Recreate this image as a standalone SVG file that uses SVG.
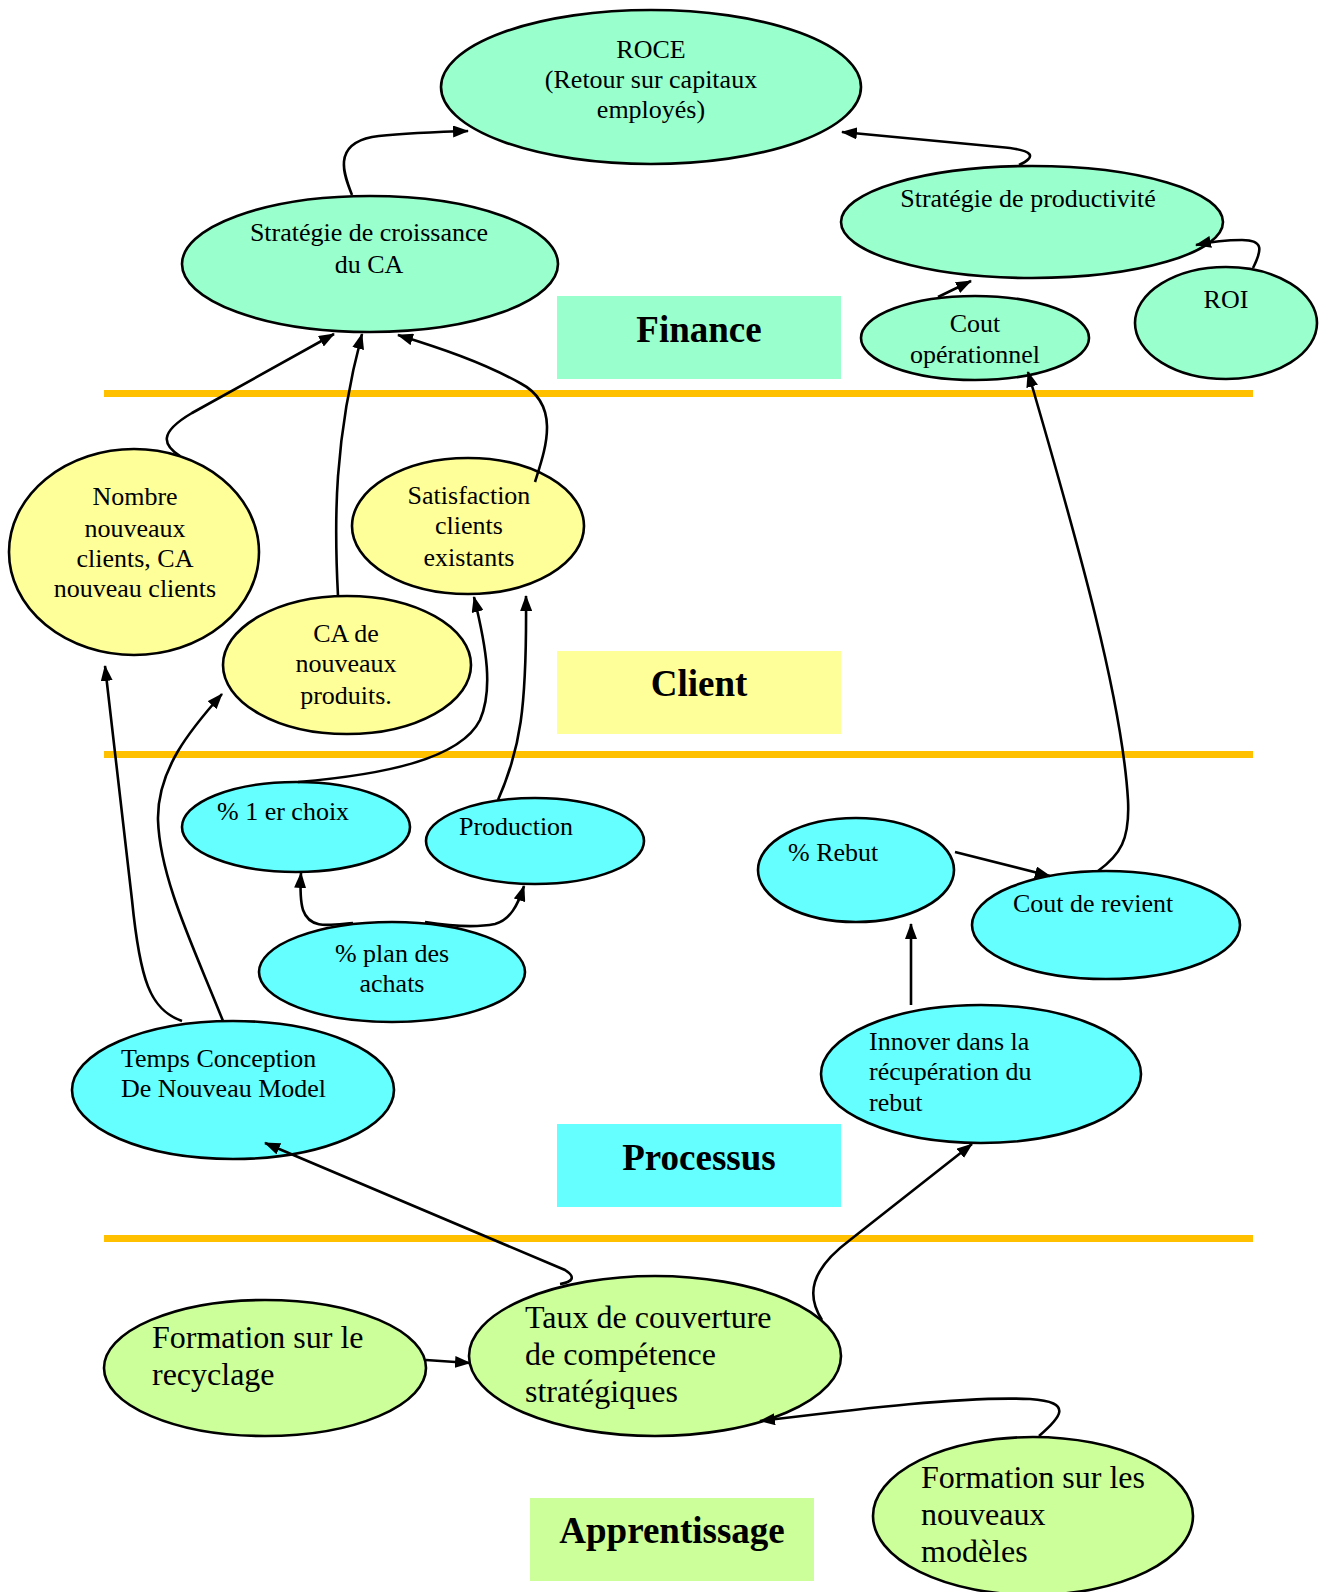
<svg xmlns="http://www.w3.org/2000/svg" width="1334" height="1592" viewBox="0 0 1334 1592">
<defs>
<marker id="arr" markerUnits="userSpaceOnUse" markerWidth="16" markerHeight="12" refX="15" refY="6" orient="auto">
<path d="M0,0 L16,6 L0,12 z" fill="#000"/>
</marker>
<style>
.n{stroke:#000;stroke-width:2.6}
.fin{fill:#99FFCC}
.cli{fill:#FFFF99}
.pro{fill:#66FFFF}
.app{fill:#CCFF99}
.t{font-family:"Liberation Serif","Times New Roman",serif;font-size:26px;fill:#000}
.tc{text-anchor:middle}
.tl{font-family:"Liberation Serif","Times New Roman",serif;font-size:32px;fill:#000}
.h{font-family:"Liberation Serif","Times New Roman",serif;font-size:37px;font-weight:bold;fill:#000;text-anchor:middle}
.sep{fill:#FFC000}
.e{fill:none;stroke:#000;stroke-width:2.6;marker-end:url(#arr)}
</style>
</defs>
<rect width="1334" height="1592" fill="#fff"/>

<g id="bands">
<rect class="sep" x="104" y="390" width="1149" height="7"/>
<rect class="sep" x="104" y="751" width="1149" height="7"/>
<rect class="sep" x="104" y="1235" width="1149" height="7"/>
</g>

<g id="label-finance">
<rect class="fin" x="557" y="296" width="284" height="83"/>
<text class="h" x="699" y="342">Finance</text>
</g>
<g id="label-client">
<rect class="cli" x="557" y="651" width="284" height="83"/>
<text class="h" x="699" y="696">Client</text>
</g>
<g id="label-processus">
<rect class="pro" x="557" y="1124" width="284" height="83"/>
<text class="h" x="699" y="1170">Processus</text>
</g>
<g id="label-apprentissage">
<rect class="app" x="530" y="1498" width="284" height="83"/>
<text class="h" x="672" y="1543">Apprentissage</text>
</g>

<g id="roce">
<ellipse class="n fin" cx="651" cy="87" rx="210" ry="77"/>
<text class="t tc" x="651" y="58">ROCE</text>
<text class="t tc" x="651" y="88">(Retour sur capitaux</text>
<text class="t tc" x="651" y="118">employés)</text>
</g>
<g id="strat-croissance">
<ellipse class="n fin" cx="370" cy="264" rx="188" ry="68"/>
<text class="t tc" x="369" y="241">Stratégie de croissance</text>
<text class="t tc" x="369" y="273">du CA</text>
</g>
<g id="strat-productivite">
<ellipse class="n fin" cx="1032" cy="222" rx="191" ry="56"/>
<text class="t tc" x="1028" y="207">Stratégie de productivité</text>
</g>
<g id="cout-operationnel">
<ellipse class="n fin" cx="975" cy="338" rx="114" ry="42"/>
<text class="t tc" x="975" y="332">Cout</text>
<text class="t tc" x="975" y="363">opérationnel</text>
</g>
<g id="roi">
<ellipse class="n fin" cx="1226" cy="323" rx="91" ry="56"/>
<text class="t tc" x="1226" y="308">ROI</text>
</g>

<g id="nombre-clients">
<ellipse class="n cli" cx="134" cy="552" rx="125" ry="103"/>
<text class="t tc" x="135" y="505">Nombre</text>
<text class="t tc" x="135" y="537">nouveaux</text>
<text class="t tc" x="135" y="567">clients, CA</text>
<text class="t tc" x="135" y="597">nouveau clients</text>
</g>
<g id="satisfaction">
<ellipse class="n cli" cx="468" cy="526" rx="116" ry="68"/>
<text class="t tc" x="469" y="504">Satisfaction</text>
<text class="t tc" x="469" y="534">clients</text>
<text class="t tc" x="469" y="566">existants</text>
</g>
<g id="ca-nouveaux-produits">
<ellipse class="n cli" cx="347" cy="665" rx="124" ry="69"/>
<text class="t tc" x="346" y="642">CA de</text>
<text class="t tc" x="346" y="672">nouveaux</text>
<text class="t tc" x="346" y="704">produits.</text>
</g>

<g id="premier-choix">
<ellipse class="n pro" cx="296" cy="827" rx="114" ry="45"/>
<text class="t" x="217" y="820">% 1 er choix</text>
</g>
<g id="production">
<ellipse class="n pro" cx="535" cy="841" rx="109" ry="43"/>
<text class="t" x="459" y="835">Production</text>
</g>
<g id="plan-achats">
<ellipse class="n pro" cx="392" cy="972" rx="133" ry="50"/>
<text class="t tc" x="392" y="962">% plan des</text>
<text class="t tc" x="392" y="992">achats</text>
</g>
<g id="temps-conception">
<ellipse class="n pro" cx="233" cy="1090" rx="161" ry="69"/>
<text class="t" x="121" y="1067">Temps Conception</text>
<text class="t" x="121" y="1097">De Nouveau Model</text>
</g>
<g id="rebut">
<ellipse class="n pro" cx="856" cy="870" rx="98" ry="52"/>
<text class="t" x="788" y="861">% Rebut</text>
</g>
<g id="cout-revient">
<ellipse class="n pro" cx="1106" cy="925" rx="134" ry="54"/>
<text class="t" x="1013" y="912">Cout de revient</text>
</g>
<g id="innover">
<ellipse class="n pro" cx="981" cy="1074" rx="160" ry="69"/>
<text class="t" x="869" y="1050">Innover dans la</text>
<text class="t" x="869" y="1080">récupération du</text>
<text class="t" x="869" y="1111">rebut</text>
</g>

<g id="formation-recyclage">
<ellipse class="n app" cx="265" cy="1368" rx="161" ry="68"/>
<text class="tl" x="152" y="1348">Formation sur le</text>
<text class="tl" x="152" y="1385">recyclage</text>
</g>
<g id="taux-couverture">
<ellipse class="n app" cx="655" cy="1356" rx="186" ry="80"/>
<text class="tl" x="525" y="1328">Taux de couverture</text>
<text class="tl" x="525" y="1365">de compétence</text>
<text class="tl" x="525" y="1402">stratégiques</text>
</g>
<g id="formation-modeles">
<ellipse class="n app" cx="1033" cy="1516" rx="160" ry="79"/>
<text class="tl" x="921" y="1488">Formation sur les</text>
<text class="tl" x="921" y="1525">nouveaux</text>
<text class="tl" x="921" y="1562">modèles</text>
</g>

<g id="connectors">
<path class="e" d="M352,195 C344,175 332,145 372,137 C400,133 440,132 468,131"/>
<path class="e" d="M1019,165 C1036,157 1036,150 1000,147 L842,132"/>
<path class="e" d="M938,297 L971,281"/>
<path class="e" d="M1253,268 C1262,250 1264,240 1242,240 C1226,240 1210,242 1196,245"/>
<path class="e" d="M180,456 C163,445 158,433 192,413 L334,334"/>
<path class="e" d="M338,596 C334,520 334,440 362,334"/>
<path class="e" d="M535,482 C545,450 562,405 520,383 C482,362 440,348 398,335"/>
<path class="e" d="M298,782 C380,775 460,760 480,720 C493,690 487,650 474,597"/>
<path class="e" d="M498,800 C520,750 527,710 526,596"/>
<path class="e" d="M353,923 C330,925 310,930 303,910 C300,900 300,890 301,873"/>
<path class="e" d="M425,922 C450,926 475,928 495,924 C510,920 518,905 524,886"/>
<path class="e" d="M182,1021 C150,1010 140,980 132,900 L105,666"/>
<path class="e" d="M223,1021 C195,950 160,880 158,820 C157,770 190,730 222,694"/>
<path class="e" d="M560,1284 C573,1282 576,1277 565,1270 L265,1143"/>
<path class="e" d="M822,1320 C806,1295 810,1270 850,1240 L972,1144"/>
<path class="e" d="M426,1360 L470,1363"/>
<path class="e" d="M1039,1436 C1060,1418 1075,1402 1030,1399 C960,1396 850,1410 760,1421"/>
<path class="e" d="M1098,871 C1120,855 1130,840 1128,800 C1122,700 1080,550 1028,372"/>
<path class="e" d="M955,852 L1050,876"/>
<path class="e" d="M911,1005 L911,924"/>
</g>
</svg>
